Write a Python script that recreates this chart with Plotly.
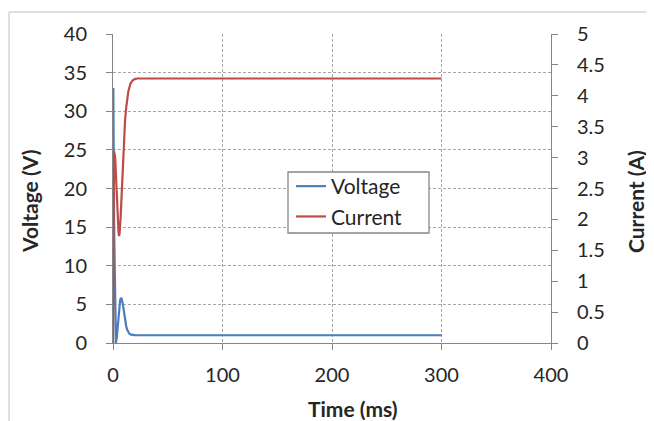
import plotly.graph_objects as go

# Voltage series (ms, V)
t_voltage = [0, 0.3, 1.0, 2.0, 2.7, 3.5, 4.5, 5.5, 6.5, 7.3, 8.0, 9.0, 10.0, 11.0, 12.0, 13.0, 14.0, 15.0, 16.5, 18.0, 20.0, 25.0, 300.0]
voltage = [0, 33.0, 15.0, 2.0, 0.0, 0.8, 2.6, 4.5, 5.5, 5.85, 5.7, 5.0, 4.0, 3.0, 2.2, 1.7, 1.4, 1.2, 1.08, 1.04, 1.02, 1.0, 1.0]

# Current series (ms, A)
t_current = [0, 0.5, 1.0, 2.0, 3.0, 3.3, 4.0, 5.0, 5.5, 6.0, 7.0, 8.0, 9.0, 9.4, 10.0, 11.0, 12.0, 12.5, 13.0, 14.0, 16.0, 17.0, 18.0, 20.0, 22.0, 25.0, 300.0]
current = [0, 3.1, 3.1, 3.0, 2.55, 2.37, 2.05, 1.8, 1.73, 1.77, 2.05, 2.5, 2.9, 3.07, 3.3, 3.6, 3.8, 3.88, 3.96, 4.07, 4.2, 4.23, 4.25, 4.27, 4.28, 4.28, 4.28]

x_ticks = [0, 100, 200, 300, 400]
v_ticks = [0, 5, 10, 15, 20, 25, 30, 35, 40]
i_ticks = [0, 0.5, 1, 1.5, 2, 2.5, 3, 3.5, 4, 4.5, 5]
i_labels = ["0", "0.5", "1", "1.5", "2", "2.5", "3", "3.5", "4", "4.5", "5"]

FONT = "Lato, Open Sans, sans-serif"
TXT = "#262626"
GRID = "#a6a6a6"
AX = "#868686"
TICK_SIZE = 20
TITLE_SIZE = 21

fig = go.Figure()
fig.add_trace(go.Scatter(x=t_voltage, y=voltage, mode="lines", name="Voltage",
                         line=dict(color="#4a7ebb", width=2.2)))
fig.add_trace(go.Scatter(x=t_current, y=current, mode="lines", name="Current", yaxis="y2",
                         line=dict(color="#be4b48", width=2.2)))

common = dict(showline=True, linecolor=AX, linewidth=1, ticks="outside", ticklen=6,
              tickcolor=AX, zeroline=False, tickfont=dict(size=TICK_SIZE, color=TXT))

# page body has an 8px default margin, so margins are shifted by 8px
fig.update_layout(
    width=654, height=421,
    margin=dict(l=105, r=111, t=26, b=86, autoexpand=False),
    paper_bgcolor="white", plot_bgcolor="white",
    font=dict(family=FONT, size=TICK_SIZE, color=TXT),
    showlegend=True,
    legend=dict(x=(291 - 113) / 438, y=(343 - 166) / 309, xanchor="left", yanchor="top",
                borderwidth=0, bgcolor="rgba(0,0,0,0)",
                font=dict(size=TITLE_SIZE, color=TXT),
                itemwidth=30, tracegroupgap=0),
    xaxis=dict(range=[0, 400], tickvals=x_ticks, showgrid=True, gridcolor=GRID,
               griddash="3px,2px", gridwidth=1, ticklabelstandoff=8, **common),
    yaxis=dict(range=[0, 40], tickvals=v_ticks, showgrid=True, gridcolor=GRID,
               griddash="3px,2px", gridwidth=1, ticklabelstandoff=15, **common),
    yaxis2=dict(range=[0, 5], tickvals=i_ticks, ticktext=i_labels, overlaying="y",
                side="right", showgrid=False, ticklabelstandoff=15, **common),
)

# legend box
fig.add_shape(type="rect", xref="paper", yref="paper",
              x0=(288 - 113) / 438, x1=(429 - 113) / 438,
              y0=(343 - 233) / 309, y1=(343 - 172) / 309,
              line=dict(color=AX, width=1.3), fillcolor="white", layer="above")

# outer chart frame
fig.add_shape(type="rect", xref="paper", yref="paper",
              x0=(9 - 113) / 438, x1=(651 - 113) / 438,
              y0=(343 - 440) / 309, y1=(343 - 12) / 309,
              line=dict(color="#bfbfbf", width=1), layer="below")

title_font = dict(family=FONT, size=TITLE_SIZE, color=TXT)
fig.add_annotation(text="<b>Time (ms)</b>", xref="paper", yref="paper",
                   x=(353 - 113) / 438, y=(343 - 408) / 309, showarrow=False,
                   xanchor="center", yanchor="middle", font=title_font)
fig.add_annotation(text="<b>Voltage (V)</b>", xref="paper", yref="paper",
                   x=(29 - 113) / 438, y=(343 - 202) / 309, showarrow=False, textangle=-90,
                   xanchor="center", yanchor="middle", font=title_font)
fig.add_annotation(text="<b>Current (A)</b>", xref="paper", yref="paper",
                   x=(635 - 113) / 438, y=(343 - 202) / 309, showarrow=False, textangle=-90,
                   xanchor="center", yanchor="middle", font=title_font)

fig.write_html("out.html")
